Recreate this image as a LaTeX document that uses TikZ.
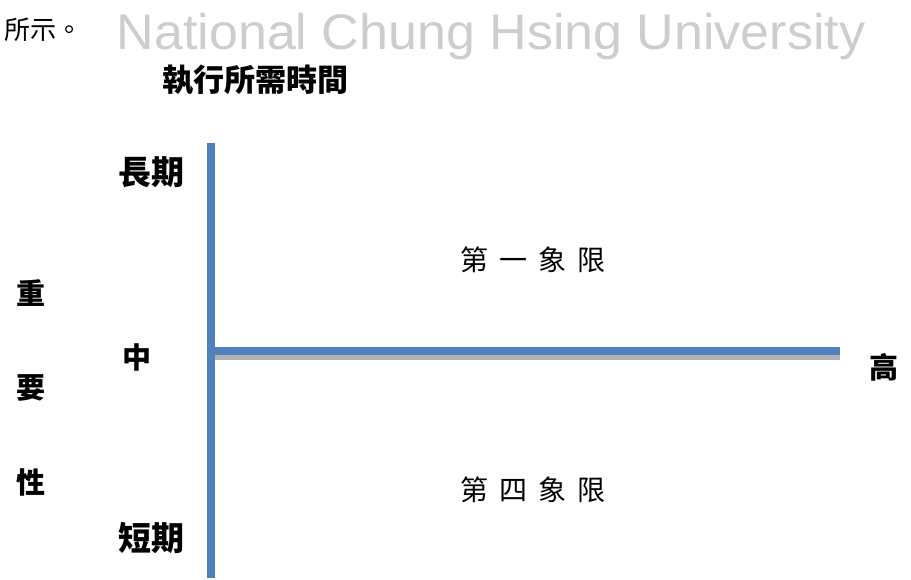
\documentclass[tikz,border=0pt]{standalone}
\usepackage{fontspec}
\setmainfont{Liberation Sans}
\newfontfamily\cjk{Noto Sans CJK TC}
\definecolor{barblue}{HTML}{4F81BD}
\definecolor{wmgray}{RGB}{205,205,205}
\tikzset{
  lbl/.style={inner sep=0pt, font=\cjk\bfseries\fontsize{29}{31}\selectfont},
  biglbl/.style={inner sep=0pt, font=\cjk\bfseries\fontsize{33}{35}\selectfont},
  quad/.style={inner sep=0pt, font=\cjk\fontsize{28}{30}\selectfont},
  bar/.style={fill=barblue, draw=none},
  shadowbar/.style={fill=black!30, draw=none}
}
\begin{document}
\begin{tikzpicture}[x=1pt,y=-1pt]
\useasboundingbox (0,0) rectangle (911,580);
% watermark and caption
\node[inner sep=0pt, anchor=base, text=wmgray, font=\fontsize{50}{54}\selectfont] (wm) at (491,50) {\scalebox{1.04}[1]{National Chung Hsing University}};
\node[inner sep=0pt, font=\cjk\fontsize{26}{28}\selectfont] (cap) at (44,30) {所示。};
\node[inner sep=0pt, font=\cjk\bfseries\fontsize{31}{33}\selectfont] (title) at (255,80) {執行所需時間};
% axes
\fill[shadowbar] (213,355) rectangle (840,360);
\fill[bar] (207,143) rectangle (215,578);
\fill[bar] (213,347) rectangle (840,355);
% labels
\node[biglbl] (long) at (151,172) {長期};
\node[lbl] (mid) at (137,357) {中};
\node[biglbl] (short) at (151,538) {短期};
\node[lbl] (z1) at (31,293) {重};
\node[lbl] (z2) at (31,388) {要};
\node[lbl] (z3) at (31,482) {性};
\node[lbl] (high) at (884,367) {高};
\node[quad] (q1) at (533,260) {第\hspace{11pt}一\hspace{11pt}象\hspace{11pt}限};
\node[quad] (q4) at (533,490) {第\hspace{11pt}四\hspace{11pt}象\hspace{11pt}限};
\end{tikzpicture}
\end{document}
